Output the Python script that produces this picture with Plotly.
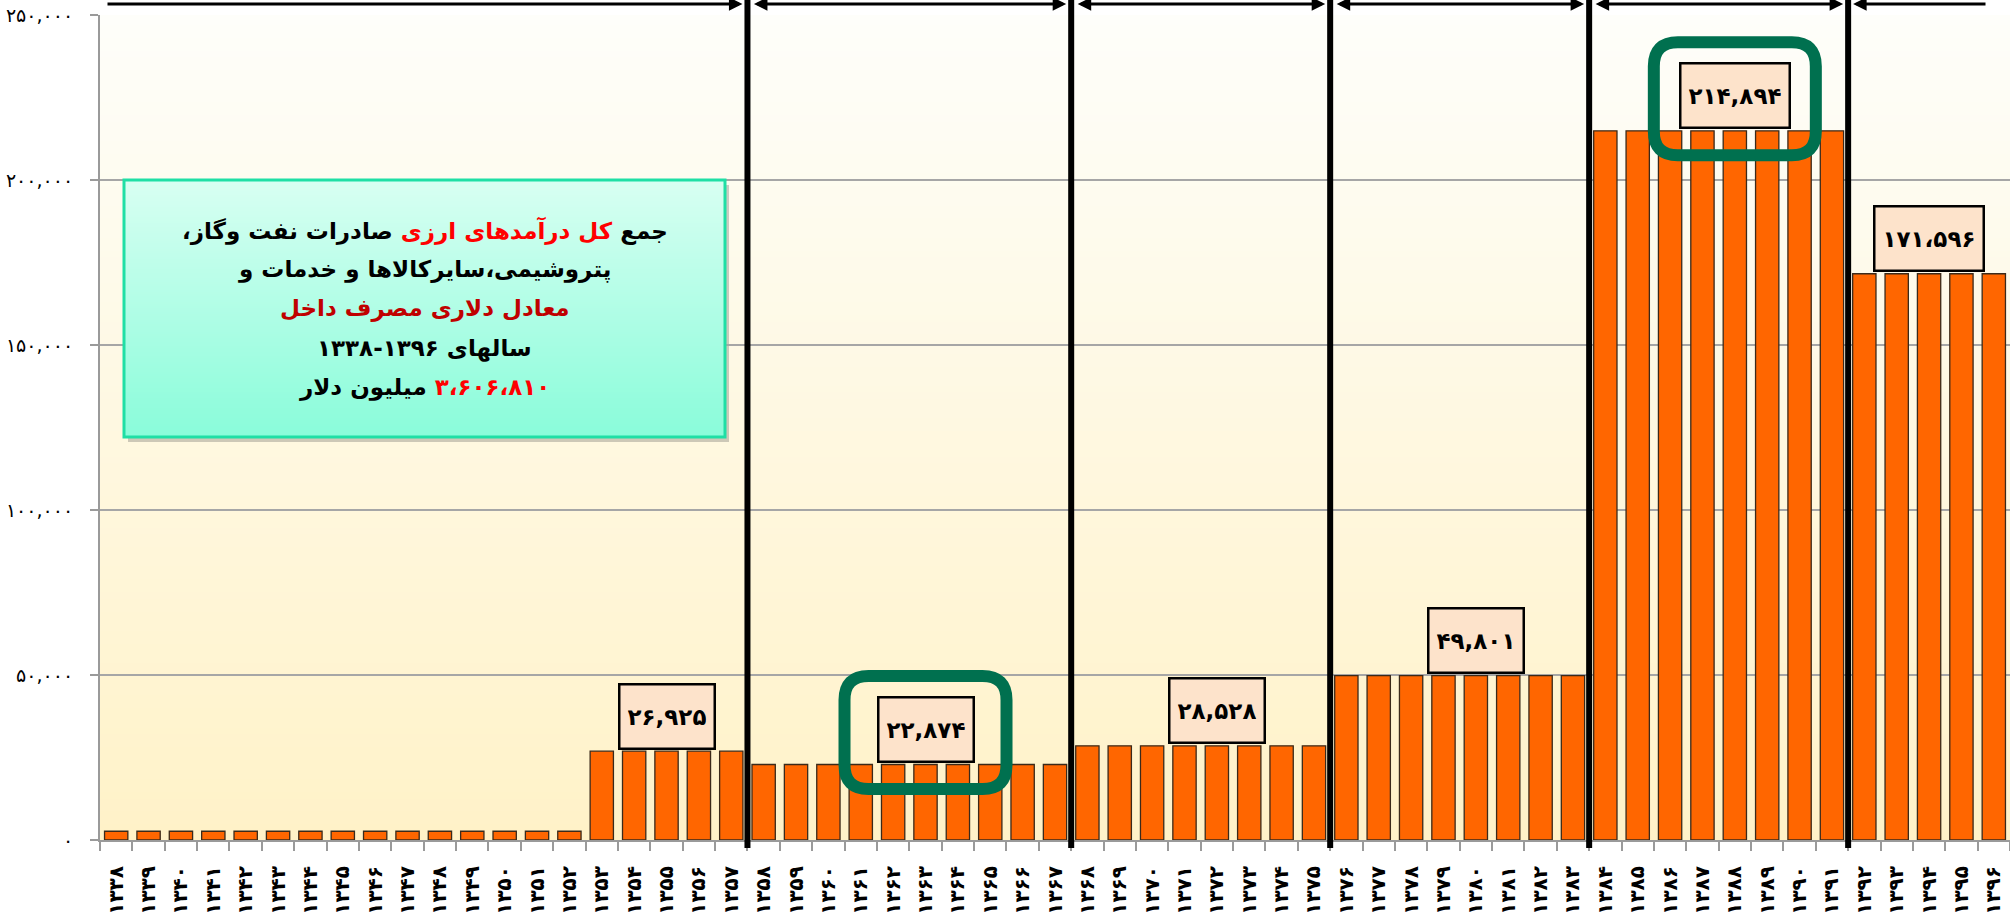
import base64
import struct
import zlib

import plotly.graph_objects as go

# ---------------- data ----------------
years = [1338, 1339, 1340, 1341, 1342, 1343, 1344, 1345, 1346, 1347, 1348, 1349, 1350,
         1351, 1352, 1353, 1354, 1355, 1356, 1357, 1358, 1359, 1360, 1361, 1362, 1363,
         1364, 1365, 1366, 1367, 1368, 1369, 1370, 1371, 1372, 1373, 1374, 1375, 1376,
         1377, 1378, 1379, 1380, 1381, 1382, 1383, 1384, 1385, 1386, 1387, 1388, 1389,
         1390, 1391, 1392, 1393, 1394, 1395, 1396]

values = [2645, 2645, 2645, 2645, 2645, 2645, 2645, 2645, 2645, 2645, 2645, 2645, 2645,
          2645, 2645,
          26925, 26925, 26925, 26925, 26925,
          22874, 22874, 22874, 22874, 22874, 22874, 22874, 22874, 22874, 22874,
          28528, 28528, 28528, 28528, 28528, 28528, 28528, 28528,
          49801, 49801, 49801, 49801, 49801, 49801, 49801, 49801,
          214894, 214894, 214894, 214894, 214894, 214894, 214894, 214894,
          171596, 171596, 171596, 171596, 171596]

# periods (first year, last year, average value shown in the label box)
period_start = [1353, 1358, 1368, 1376, 1384, 1392]
period_end = [1357, 1367, 1375, 1383, 1391, 1396]
period_value = [26925, 22874, 28528, 49801, 214894, 171596]
period_label = ["۲۶,۹۲۵", "۲۲,۸۷۴", "۲۸,۵۲۸", "۴۹,۸۰۱", "۲۱۴,۸۹۴", "۱۷۱،۵۹۶"]
highlighted = [1358, 1384]  # periods circled in green

# boundaries drawn as thick vertical lines (between these years and the next)
separator_after = [1357, 1367, 1375, 1383, 1391]

y_tick_vals = [0, 50000, 100000, 150000, 200000, 250000]
y_tick_text = ["۰", "۵۰,۰۰۰", "۱۰۰,۰۰۰", "۱۵۰,۰۰۰", "۲۰۰,۰۰۰", "۲۵۰,۰۰۰"]

box_lines = [
    "جمع <span style='color:#FF0000'>کل درآمدهای ارزی</span> صادرات نفت وگاز،",
    "پتروشیمی،سایرکالاها و خدمات و",
    "<span style='color:#C00000'>معادل دلاری مصرف داخل</span>",
    "سالهای ۱۳۹۶-۱۳۳۸",
    "<span style='color:#FF0000'>۳،۶۰۶،۸۱۰</span> میلیون دلار",
]

# ---------------- helpers ----------------
FA = str.maketrans("0123456789", "۰۱۲۳۴۵۶۷۸۹")
x_labels = [str(y).translate(FA) for y in years]
idx = {y: i for i, y in enumerate(years)}

W_FIG, H_FIG = 2010, 921
M_L, M_R, M_T, M_B = 100, 0, 15, 81
PW = W_FIG - M_L - M_R
PH = H_FIG - M_T - M_B
CAT_W = PW / len(years)


def px_x(px):
    return (px - M_L) / PW


def px_y(py):
    return (H_FIG - M_B - py) / PH


def gradient_png(top, bottom, n=128):
    rows = []
    for i in range(n):
        t = i / (n - 1)
        c = bytes(int(round(a + (b - a) * t)) for a, b in zip(top, bottom))
        rows.append(b"\x00" + c + c)
    raw = b"".join(rows)

    def chunk(tag, data):
        return (struct.pack(">I", len(data)) + tag + data
                + struct.pack(">I", zlib.crc32(tag + data) & 0xFFFFFFFF))

    png = (b"\x89PNG\r\n\x1a\n"
           + chunk(b"IHDR", struct.pack(">IIBBBBB", 2, n, 8, 2, 0, 0, 0))
           + chunk(b"IDAT", zlib.compress(raw))
           + chunk(b"IEND", b""))
    return "data:image/png;base64," + base64.b64encode(png).decode()


def rounded_rect(cx, cy, w, h, r):
    x0, x1 = cx - w / 2, cx + w / 2
    y0, y1 = cy - h / 2, cy + h / 2
    return (f"M{x0 + r},{y0} L{x1 - r},{y0} Q{x1},{y0} {x1},{y0 + r} "
            f"L{x1},{y1 - r} Q{x1},{y1} {x1 - r},{y1} L{x0 + r},{y1} "
            f"Q{x0},{y1} {x0},{y1 - r} L{x0},{y0 + r} Q{x0},{y0} {x0 + r},{y0} Z")


FONT = "DejaVu Sans"
RLM = "\u200f"

fig = go.Figure()
fig.add_trace(go.Bar(
    x=x_labels, y=values,
    marker=dict(color="#FF6600", line=dict(color="#3B2A1A", width=1.3)),
    hoverinfo="x+y",
))

shapes = []
annotations = []
images = []

# plot-area gradient background
images.append(dict(source=gradient_png((254, 254, 250), (255, 242, 200)),
                   xref="paper", yref="paper", x=0, y=1, sizex=1, sizey=1,
                   xanchor="left", yanchor="top", sizing="stretch", layer="below"))

# separators
sep_pos = [idx[y] + 0.5 for y in separator_after]
for s in sep_pos:
    shapes.append(dict(type="line", xref="x", yref="paper", x0=s, x1=s,
                       y0=px_y(848), y1=px_y(0), layer="above",
                       line=dict(color="black", width=6)))

# arrows along the top
arrow_y = px_y(4)
ends = [-0.5 + 6 / CAT_W] + sep_pos + [len(years) - 0.5 - 23 / CAT_W]
for k in range(len(ends) - 1):
    a, b = ends[k], ends[k + 1]
    if k == 0:
        head, tail, side = b, a, "end"
    elif k == len(ends) - 2:
        head, tail, side = a, b, "end"
    else:
        head, tail, side = b, a, "end+start"
    annotations.append(dict(x=head, y=arrow_y, xref="x", yref="paper",
                            ax=tail, ay=0, axref="x", ayref="pixel",
                            text="", showarrow=True, arrowhead=2, arrowsize=0.9,
                            arrowwidth=3, arrowcolor="black", arrowside=side,
                            standoff=5, startstandoff=5 if side == "end+start" else 0,
                            startarrowhead=2, startarrowsize=0.9))

# period labels
for s, e, v, lab in zip(period_start, period_end, period_value, period_label):
    n = e - s + 1
    xi = idx[s] + n // 2
    annotations.append(dict(x=xi, y=v, xref="x", yref="y", yshift=35,
                            text=lab, showarrow=False, height=48,
                            font=dict(family=FONT, size=23, color="black", weight="bold"),
                            bgcolor="#FDE3CB", bordercolor="black", borderwidth=2.5,
                            borderpad=7))
    if s in highlighted:
        shapes.append(dict(type="path", xref="x", yref="y", xsizemode="pixel",
                           ysizemode="pixel", xanchor=xi, yanchor=v,
                           path=rounded_rect(0, 32, 162, 113, 24),
                           line=dict(color="#00704F", width=12), layer="above"))

# text box
bx0, bx1, by0, by1 = 124, 725, 180, 437
shapes.append(dict(type="rect", xref="paper", yref="paper",
                   x0=px_x(bx0 + 4), x1=px_x(bx1 + 4), y0=px_y(by1 + 5), y1=px_y(by0 + 5),
                   fillcolor="rgba(90,90,90,0.3)", line=dict(width=0), layer="below"))
images.append(dict(source=gradient_png((216, 255, 242), (138, 252, 218)),
                   xref="paper", yref="paper", x=px_x(bx0), y=px_y(by0),
                   sizex=px_x(bx1) - px_x(bx0), sizey=px_y(by0) - px_y(by1),
                   xanchor="left", yanchor="top", sizing="stretch", layer="above"))
shapes.append(dict(type="rect", xref="paper", yref="paper",
                   x0=px_x(bx0), x1=px_x(bx1), y0=px_y(by1), y1=px_y(by0),
                   line=dict(color="#1FDFA5", width=3), layer="above"))
cx = (bx0 + bx1) / 2
line_y = [230, 269, 308.5, 348, 387]
for t, ly in zip(box_lines, line_y):
    annotations.append(dict(x=px_x(cx), y=px_y(ly), xref="paper", yref="paper",
                            text=RLM + t + RLM, showarrow=False,
                            xanchor="center", yanchor="middle",
                            font=dict(family=FONT, size=23, color="black", weight="bold")))

fig.update_layout(
    width=W_FIG, height=H_FIG,
    margin=dict(l=M_L, r=M_R, t=M_T, b=M_B, autoexpand=False),
    paper_bgcolor="white", plot_bgcolor="rgba(0,0,0,0)",
    bargap=0.28, showlegend=False,
    shapes=shapes, annotations=annotations, images=images,
    font=dict(family=FONT),
    xaxis=dict(type="category", range=[-0.5, len(years) - 0.5], tickangle=-90,
               automargin=False,
               tickson="boundaries", ticks="outside", ticklen=9, tickwidth=2,
               tickcolor="#9A9A9A", showline=True, linecolor="#9A9A9A", linewidth=2,
               showgrid=False, ticklabelstandoff=16,
               tickfont=dict(family=FONT, size=20, color="black", weight="bold")),
    yaxis=dict(range=[0, 250000], tickvals=y_tick_vals, ticktext=y_tick_text,
               automargin=False,
               ticks="outside", ticklen=8, tickwidth=2, tickcolor="#9A9A9A",
               showline=True, linecolor="#9A9A9A", linewidth=2,
               showgrid=True, gridcolor="#A6A6A6", gridwidth=1.5, zeroline=False,
               ticklabelstandoff=13,
               tickfont=dict(family=FONT, size=19, color="black")),
)

fig.write_html(
    "out.html",
    config={"displayModeBar": False},
    post_script="document.body.style.margin='0';"
                "document.documentElement.style.overflow='hidden';",
)
